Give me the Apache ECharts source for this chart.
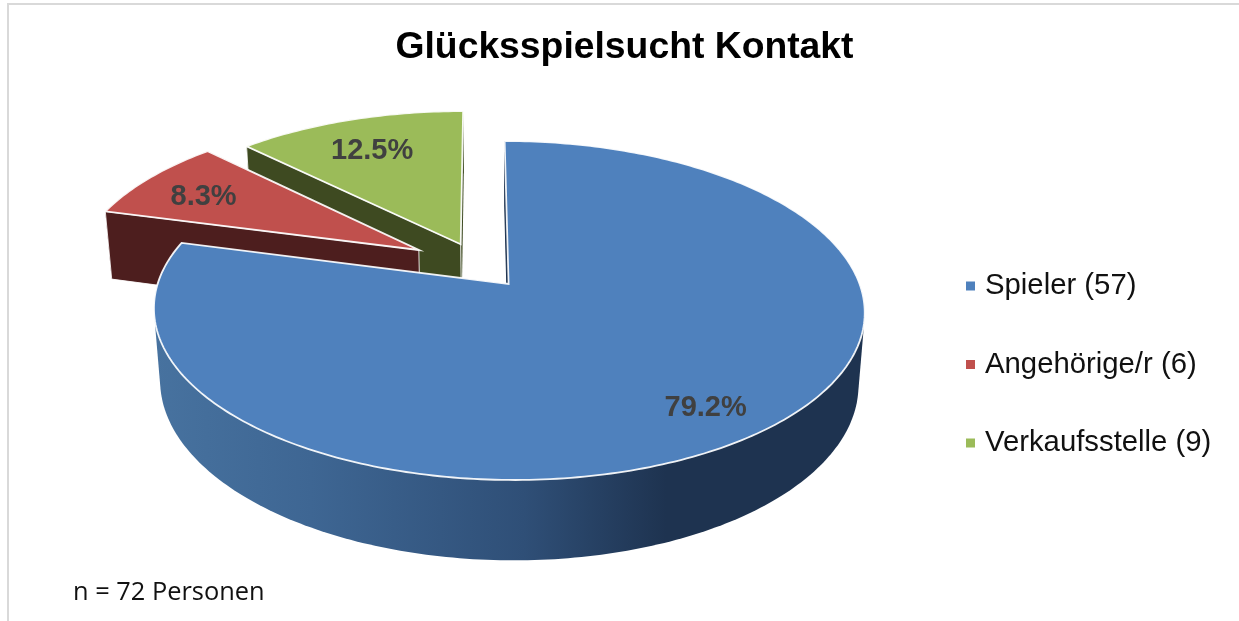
<!DOCTYPE html>
<html>
<head>
<meta charset="utf-8">
<style>html,body{margin:0;padding:0;background:#fff}#c{width:1239px;height:621px}</style>
<script src="https://cdn.jsdelivr.net/npm/echarts@6/dist/echarts.min.js"></script>
</head>
<body>
<div id="c"></div>
<script>
// ---- data ----
const categories = ['Spieler', 'Angehörige/r', 'Verkaufsstelle'];
const counts = [57, 6, 9];
const titleText = 'Glücksspielsucht Kontakt';
const noteText = 'n = 72 Personen';

// ---- style / layout ----
const topColors = ['#4f81bd', '#c0504d', '#9bbb59'];
const wallColors = [null, '#4d1e1e', '#3e4a21'];
const blueWallStops = [
  {offset: 0, color: '#47729f'}, {offset: 0.22, color: '#3e6693'},
  {offset: 0.52, color: '#2f4f77'}, {offset: 0.72, color: '#1e3350'}, {offset: 1, color: '#1e3350'}
];
const explode = [[0, 0], [-0.2615, 0.2124], [-0.1385, 0.25]];
const labelRadius = [0.83, 0.77, 0.745];
const labelNudge = [[-4, 3], [-4.5, 3], [-3, 2]];
const zOrder = [3, 2, 1];
// perspective camera of the tilted disc
const CX = 508.6, S = 351, SKEW = -4.6, BASE = 284, A = -120.96, C = 0.1563, DW = 0.0173, DY = 77.5;

const total = counts.reduce((a, b) => a + b, 0);

function project(u, v, low) {
  const w = 1 + C * v + (low ? DW : 0);
  return [CX + (S * u + SKEW * v) / w, (BASE + A * v + (low ? DY : 0)) / w];
}
function arcPoints(a0, a1, ex, low) {
  const out = [], n = Math.max(8, Math.round((a1 - a0) * 60));
  for (let i = 0; i <= n; i++) {
    const t = a0 + (a1 - a0) * i / n;
    out.push(project(Math.sin(t) + ex[0], Math.cos(t) + ex[1], low));
  }
  return out;
}
function hull(pts) {
  const p = pts.slice().sort((a, b) => a[0] - b[0] || a[1] - b[1]);
  const cross = (o, a, b) => (a[0] - o[0]) * (b[1] - o[1]) - (a[1] - o[1]) * (b[0] - o[0]);
  const lower = [], upper = [];
  for (const q of p) {
    while (lower.length > 1 && cross(lower[lower.length - 2], lower[lower.length - 1], q) <= 0) lower.pop();
    lower.push(q);
  }
  for (let i = p.length - 1; i >= 0; i--) {
    const q = p[i];
    while (upper.length > 1 && cross(upper[upper.length - 2], upper[upper.length - 1], q) <= 0) upper.pop();
    upper.push(q);
  }
  lower.pop(); upper.pop();
  return lower.concat(upper);
}

function makeRender(idx) {
  return function (params, api) {
    const value = api.value(0);
    const before = counts.slice(0, idx).reduce((a, b) => a + b, 0);
    const a0 = before / total * 2 * Math.PI;
    const a1 = a0 + value / total * 2 * Math.PI;
    const ex = explode[idx];
    const topArc = arcPoints(a0, a1, ex, false);
    const lowArc = arcPoints(a0, a1, ex, true);
    const apexTop = project(ex[0], ex[1], false);
    const apexLow = project(ex[0], ex[1], true);
    const wallFill = wallColors[idx] ||
      new echarts.graphic.LinearGradient(155, 0, 865, 0, blueWallStops, true);
    const flatFill = wallColors[idx] || '#1e3350';
    const edge = idx === 0 ? flatFill : 'rgba(255,255,255,0.85)';
    const children = [];
    // far end wall
    children.push({type: 'polygon', shape: {points: [apexTop, topArc[topArc.length - 1], lowArc[lowArc.length - 1], apexLow]},
      style: {fill: flatFill}});
    // outer rim wall: the whole front half of a slice that wraps around needs its silhouette
    let rim;
    if (idx === 0) {
      const f0 = Math.max(a0, Math.PI / 2), f1 = Math.min(a1, 1.5 * Math.PI);
      rim = hull(arcPoints(f0, f1, ex, false).concat(arcPoints(f0, f1, ex, true)));
    } else {
      rim = topArc.concat(lowArc.slice().reverse());
    }
    children.push({type: 'polygon', shape: {points: rim}, style: {fill: wallFill}});
    // near end wall
    children.push({type: 'polygon', shape: {points: [apexTop, topArc[0], lowArc[0], apexLow]},
      style: {fill: flatFill, stroke: edge, lineWidth: 1}});
    // top face
    children.push({type: 'polygon', shape: {points: [apexTop].concat(topArc)},
      style: {fill: topColors[idx], stroke: 'rgba(255,255,255,0.92)', lineWidth: 1.8, lineJoin: 'miter'}});
    // value label
    const mid = (a0 + a1) / 2, r = labelRadius[idx];
    const p = project(Math.sin(mid) * r + ex[0], Math.cos(mid) * r + ex[1], false);
    children.push({type: 'text', z2: 10, style: {
      x: p[0] + labelNudge[idx][0], y: p[1] + labelNudge[idx][1],
      text: (value / total * 100).toFixed(1) + '%',
      fill: '#404040', font: 'bold 29px "Liberation Sans", Arial, sans-serif',
      align: 'center', verticalAlign: 'middle'}});
    return {type: 'group', children};
  };
}

const chart = echarts.init(document.getElementById('c'), null, {renderer: 'canvas'});
chart.setOption({
  animation: false,
  backgroundColor: '#ffffff',
  color: topColors,
  title: [
    {text: titleText, left: 624.5 - 5, top: 24.5, textAlign: 'center',
     textStyle: {fontFamily: '"Liberation Sans", Arial, sans-serif', fontWeight: 'bold', fontSize: 37.3, color: '#000'}},
    {text: noteText, left: 68, top: 575,
     textStyle: {fontFamily: '"Open Sans", sans-serif', fontWeight: 'normal', fontSize: 25.4, color: '#111'}}
  ],
  legend: {
    orient: 'vertical', left: 961, top: 266.5,
    icon: 'rect', itemWidth: 9, itemHeight: 9, itemGap: 49.5,
    selectedMode: false,
    formatter: name => name + ' (' + counts[categories.indexOf(name)] + ')',
    textStyle: {fontFamily: '"Liberation Sans", Arial, sans-serif', fontSize: 29.3, color: '#111', padding: [0, 0, 0, 5]},
    data: categories
  },
  graphic: [
    {type: 'rect', silent: true, shape: {x: 7, y: 3, width: 2, height: 618}, style: {fill: '#d9d9d9'}},
    {type: 'rect', silent: true, shape: {x: 7, y: 3, width: 1232, height: 2}, style: {fill: '#d9d9d9'}}
  ],
  series: categories.map((name, i) => ({
    type: 'custom', name, coordinateSystem: 'none', z: zOrder[i],
    silent: true, itemStyle: {color: topColors[i]},
    renderItem: makeRender(i),
    data: [[counts[i]]]
  }))
});
</script>
</body>
</html>
